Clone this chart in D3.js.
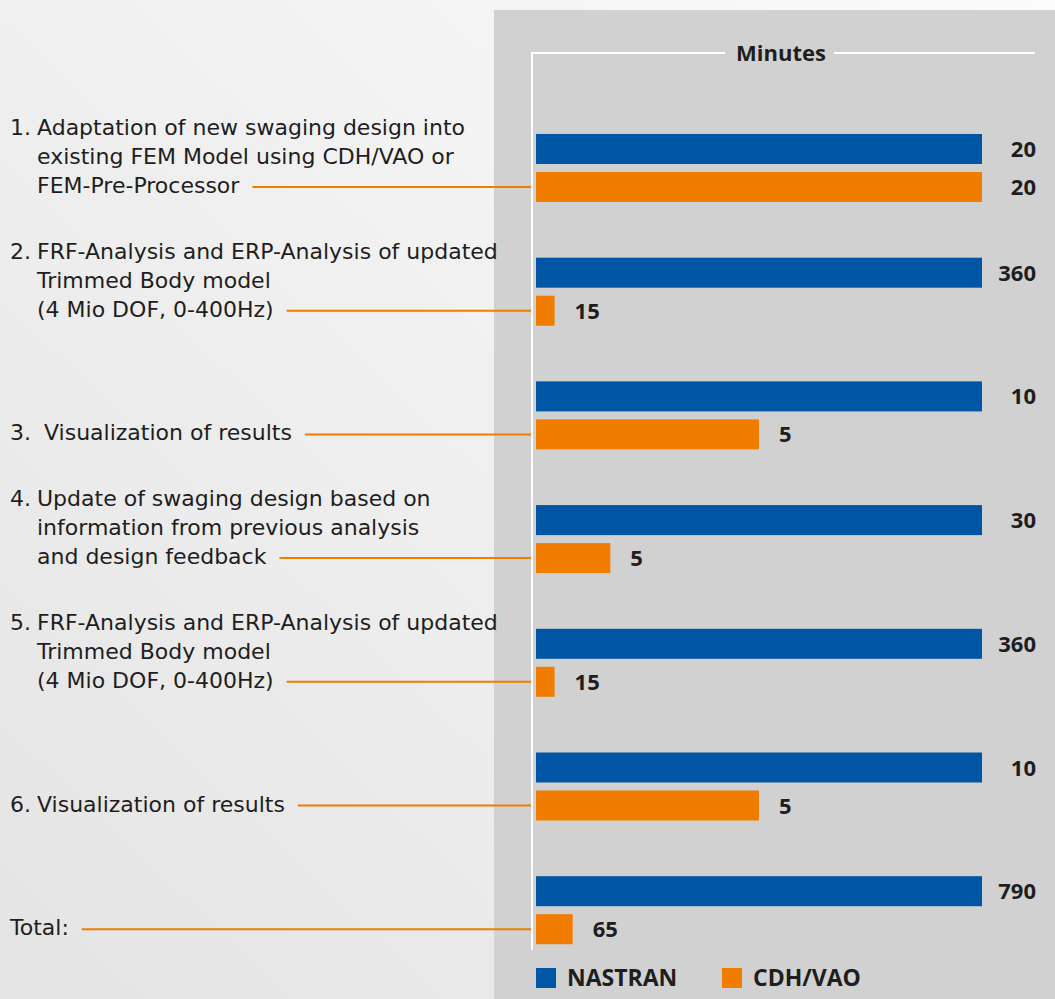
<!DOCTYPE html>
<html>
<head>
<meta charset="utf-8">
<script src="https://cdn.jsdelivr.net/npm/d3@7"></script>
<style>
  body { margin: 0; }
  text { font-family: "Open Sans", "Noto Sans", sans-serif; fill: #1e1e1e; }
  .label { font-family: "DejaVu Sans", sans-serif; }
</style>
</head>
<body>
<script>
// process steps: NASTRAN vs CDH/VAO, minutes
const width = 1055, height = 999

const steps = [
  ["1.", "Adaptation of new swaging design into", "existing FEM Model using CDH/VAO or", "FEM-Pre-Processor"],
  ["2.", "FRF-Analysis and ERP-Analysis of updated", "Trimmed Body model", "(4 Mio DOF, 0-400Hz)"],
  ["3.", " Visualization of results"],
  ["4.", "Update of swaging design based on", "information from previous analysis", "and design feedback"],
  ["5.", "FRF-Analysis and ERP-Analysis of updated", "Trimmed Body model", "(4 Mio DOF, 0-400Hz)"],
  ["6.", "Visualization of results"],
  ["Total:"]
]
const nastran = [20, 360, 10, 30, 360, 10, 790]
const cdhvao = [20, 15, 5, 5, 15, 5, 65]
const seriesNames = ["NASTRAN", "CDH/VAO"]
const colors = ["#0055a5", "#f07d00"]

const svg = d3.select("body").append("svg")
    .attr("width", width)
    .attr("height", height)

const defs = svg.append("defs")
const grad = defs.append("linearGradient")
    .attr("id", "bg")
    .attr("x1", "100%").attr("y1", "0%")
    .attr("x2", "0%").attr("y2", "100%")
grad.append("stop").attr("offset", "0%").attr("stop-color", "#fbfbfb")
grad.append("stop").attr("offset", "100%").attr("stop-color", "#e4e4e4")

svg.append("rect")
    .attr("width", width)
    .attr("height", height)
    .style("fill", "url(#bg)")

// grey panel
svg.append("rect")
    .attr("x", 494)
    .attr("y", 10)
    .attr("width", width - 494)
    .attr("height", height - 10)
    .style("fill", "#d1d1d1")

const x0 = 536, x1 = 982
const barH = 30, barGap = 8

const y = d3.scaleBand()
    .domain(d3.range(steps.length))
    .range([134, 134 + 123.7 * steps.length])

// axis frame
const axisX = 532, axisTop = 53
svg.append("text")
    .attr("x", 781)
    .attr("y", axisTop + 8)
    .attr("text-anchor", "middle")
    .style("font-size", "22px")
    .style("font-weight", "bold")
    .text("Minutes")

svg.append("path")
    .attr("d", "M" + axisX + ",950V" + axisTop + "H725M834," + axisTop + "H1035")
    .style("fill", "none")
    .style("stroke", "#fff")
    .style("stroke-width", 2)

const groups = svg.selectAll(".group")
    .data(steps)
    .enter()
    .append("g")
      .attr("class", "group")
      .attr("transform", function(d, i){ return "translate(0," + y(i) + ")" })

groups.each(function(d, i){
  const g = d3.select(this)
  // each pair is drawn relative to the NASTRAN time
  const x = d3.scaleLinear()
      .domain([0, nastran[i]])
      .range([x0, x1])
  const vals = [nastran[i], cdhvao[i]]

  vals.forEach(function(v, k){
    const by = k * (barH + barGap)
    g.append("rect")
        .attr("x", x(0))
        .attr("y", by)
        .attr("width", x(v) - x(0))
        .attr("height", barH)
        .style("fill", colors[k])
    const full = x(v) > x1 - 10
    g.append("text")
        .attr("x", full ? 1036 : x(v) + 20)
        .attr("y", by + barH / 2 + 8)
        .attr("text-anchor", full ? "end" : "start")
        .style("font-size", "22px")
        .style("font-weight", "bold")
        .text(v)
  })

  // label lines, last line aligned with the orange bar
  const lineY = barH + barGap + barH / 2
  const lines = d.length > 1 ? d.slice(1) : [d[0]]
  const label = g.append("text")
      .attr("class", "label")
      .style("font-size", "22px")
      .attr("xml:space", "preserve")
  let last
  lines.forEach(function(t, j){
    const ly = lineY - (lines.length - 1 - j) * 29 + 6
    if (j === 0 && d.length > 1) {
      label.append("tspan").attr("x", 10).attr("y", ly).text(d[0])
    }
    last = label.append("tspan")
        .attr("x", d.length > 1 ? 37 : 10)
        .attr("y", ly)
        .text(t)
  })
  const lastEnd = (d.length > 1 ? 37 : 10) + last.node().getComputedTextLength()
  g.append("line")
      .attr("x1", lastEnd + 13)
      .attr("x2", axisX - 1)
      .attr("y1", lineY)
      .attr("y2", lineY)
      .style("stroke", colors[1])
      .style("stroke-width", 2)
})

// legend
const legend = svg.selectAll(".legend")
    .data(seriesNames)
    .enter()
    .append("g")
      .attr("class", "legend")
      .attr("transform", function(d, i){ return "translate(" + (536 + i * 186) + ",968)" })

legend.append("rect")
    .attr("width", 20)
    .attr("height", 20)
    .style("fill", function(d, i){ return colors[i] })

legend.append("text")
    .attr("x", 31)
    .attr("y", 18)
    .style("font-size", "23px")
    .style("font-weight", "bold")
    .text(function(d){ return d })
</script>
</body>
</html>
